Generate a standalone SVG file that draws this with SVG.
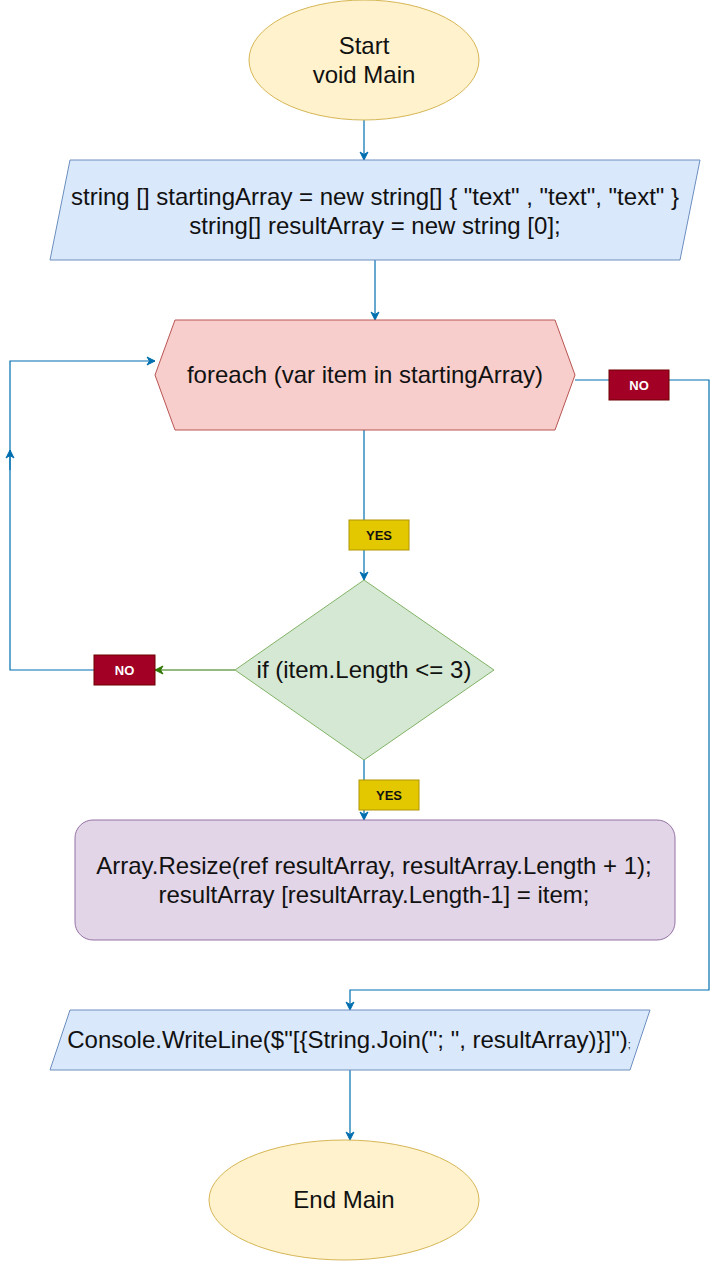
<svg xmlns="http://www.w3.org/2000/svg" width="718" height="1261" viewBox="0 0 718 1261">
<style>
  .t { font-family: "Liberation Sans", Arial, sans-serif; font-size: 24px; fill: #111; text-anchor: middle; }
  .lbl { font-family: "Liberation Sans", Arial, sans-serif; font-size: 13px; font-weight: bold; text-anchor: middle; }
  .edge { fill: none; stroke: #006eaf; stroke-width: 1.2; }
  .term { fill: #fff2cc; stroke: #d6b656; }
  .io { fill: #dae8fc; stroke: #6c8ebf; }
  .yes rect { fill: #e3c800; stroke: #b09500; }
  .yes text { fill: #111; }
  .no rect { fill: #a20025; stroke: #6f0000; }
  .no text { fill: #fff; }
</style>
<defs>
  <marker id="ab" markerWidth="10" markerHeight="10" refX="9" refY="5" orient="auto" markerUnits="userSpaceOnUse">
    <path d="M1,1 L9,5 L1,9 L3.5,5 Z" fill="#006eaf" stroke="#006eaf" stroke-width="1"/>
  </marker>
  <marker id="ag" markerWidth="10" markerHeight="10" refX="9" refY="5" orient="auto" markerUnits="userSpaceOnUse">
    <path d="M1,1 L9,5 L1,9 L3.5,5 Z" fill="#2d7600" stroke="#2d7600" stroke-width="1"/>
  </marker>
</defs>
<rect width="718" height="1261" fill="#fff"/>

<g id="connectors">
  <path class="edge" d="M364,120 L364,160" marker-end="url(#ab)"/>
  <path class="edge" d="M375,260 L375,320" marker-end="url(#ab)"/>
  <path class="edge" d="M364,430 L364,580" marker-end="url(#ab)"/>
  <path class="edge" d="M364,760 L364,820" marker-end="url(#ab)"/>
  <path d="M235,670 L155,670" fill="none" stroke="#2d7600" stroke-width="1.2" marker-end="url(#ag)"/>
  <path class="edge" d="M94,670 L10,670 L10,361 L155,361" marker-end="url(#ab)"/>
  <path class="edge" d="M10,470 L10,450" marker-end="url(#ab)"/>
  <path class="edge" d="M575,380 L709,380 L709,990 L350,990 L350,1010" marker-end="url(#ab)"/>
  <path class="edge" d="M350,1070 L350,1140" marker-end="url(#ab)"/>
</g>

<g id="start">
  <ellipse class="term" cx="364" cy="60" rx="115" ry="60"/>
  <text class="t" x="364" y="54">Start</text>
  <text class="t" x="364" y="83">void Main</text>
</g>

<g id="init">
  <polygon class="io" points="70,160 700,160 680,260 50,260"/>
  <text class="t" x="375" y="205">string [] startingArray = new string[] { "text" , "text", "text" }</text>
  <text class="t" x="375" y="234">string[] resultArray = new string [0];</text>
</g>

<g id="foreach">
  <polygon points="175,320 555,320 575,375 555,430 175,430 155,375" fill="#f8cecc" stroke="#b85450"/>
  <text class="t" x="365" y="383">foreach (var item in startingArray)</text>
</g>

<g id="label-no-right" class="no">
  <rect x="609" y="370" width="60" height="30"/>
  <text class="lbl" x="639" y="389.5">NO</text>
</g>

<g id="label-yes-1" class="yes">
  <rect x="349" y="520" width="60" height="30"/>
  <text class="lbl" x="379" y="539.5">YES</text>
</g>

<g id="decision">
  <polygon points="364,580 494,670 364,760 235,670" fill="#d5e8d4" stroke="#82b366"/>
  <text class="t" x="364" y="678">if (item.Length &lt;= 3)</text>
</g>

<g id="label-no-left" class="no">
  <rect x="94" y="655" width="61" height="30"/>
  <text class="lbl" x="124.5" y="674.5">NO</text>
</g>

<g id="label-yes-2" class="yes">
  <rect x="359" y="780" width="60" height="30"/>
  <text class="lbl" x="389" y="799.5">YES</text>
</g>

<g id="resize">
  <rect x="75" y="820" width="600" height="120" rx="18" ry="18" fill="#e1d5e7" stroke="#9673a6"/>
  <text class="t" x="374" y="874">Array.Resize(ref resultArray, resultArray.Length + 1);</text>
  <text class="t" x="374" y="903">resultArray [resultArray.Length-1] = item;</text>
</g>

<g id="output">
  <polygon class="io" points="70,1010 650,1010 630,1070 50,1070"/>
  <text class="t" x="349" y="1048">Console.WriteLine($"[{String.Join("; ", resultArray)}]")<tspan font-size="11">;</tspan></text>
</g>

<g id="end">
  <ellipse class="term" cx="344" cy="1200" rx="135" ry="60"/>
  <text class="t" x="344" y="1208">End Main</text>
</g>
</svg>
